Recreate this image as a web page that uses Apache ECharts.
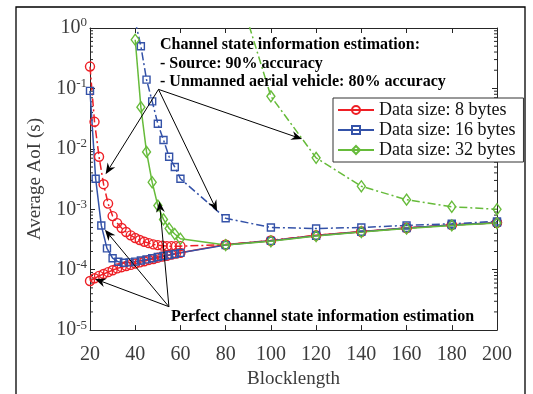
<!DOCTYPE html>
<html><head><meta charset="utf-8">
<script src="https://cdn.jsdelivr.net/npm/echarts@6/dist/echarts.min.js"></script>
<style>html,body{margin:0;padding:0;background:#fff}#c{width:533px;height:394px}</style>
</head><body><div id="c"></div>
<script>
// ---- data ----
const blockFine = [20,22,24,26,28,30,32,34,36,38,40,42,44,46,48,50,52,54,56,58,60];
const blockMid = [20,22.5,25,27.5,30,32.5,35,37.5,40,42.5,45,47.5,50,52.5,55,57.5,60];
const blockMidHigh = [40,42.5,45,47.5,50,52.5,55,57.5,60];
const blockLong = [80,100,120,140,160,180,200];

const aoi8Perfect = [6.5e-5,7.2e-5,7.9e-5,8.5e-5,9.1e-5,9.8e-5,1.05e-4,1.1e-4,1.15e-4,1.2e-4,1.26e-4,1.32e-4,1.38e-4,1.45e-4,1.5e-4,1.58e-4,1.65e-4,1.7e-4,1.78e-4,1.85e-4,1.9e-4,
  2.6e-4,3.0e-4,3.7e-4,4.3e-4,4.9e-4,5.5e-4,6.0e-4];
const aoi8Imperfect = [0.23,0.028,7.4e-3,2.6e-3,1.24e-3,7.7e-4,5.9e-4,4.9e-4,4.2e-4,3.7e-4,3.35e-4,3.1e-4,2.9e-4,2.75e-4,2.62e-4,2.55e-4,2.5e-4,2.45e-4,2.45e-4,2.45e-4,2.45e-4,
  2.6e-4,3.05e-4,3.7e-4,4.25e-4,4.9e-4,5.5e-4,6.0e-4];
const aoi16Perfect = [0.091,3.2e-3,5.4e-4,2.25e-4,1.55e-4,1.35e-4,1.3e-4,1.32e-4,1.36e-4,1.42e-4,1.48e-4,1.55e-4,1.62e-4,1.68e-4,1.75e-4,1.82e-4,1.9e-4,
  2.55e-4,3.0e-4,3.65e-4,4.25e-4,4.9e-4,5.5e-4,6.0e-4];
const aoi16Imperfect = [1.3,0.50,0.14,0.061,0.026,0.014,7.4e-3,5.0e-3,3.2e-3,
  7.1e-4,5.0e-4,4.8e-4,5.0e-4,5.4e-4,5.75e-4,6.3e-4];
const aoi32Perfect = [0.64,0.049,8.9e-3,2.8e-3,1.15e-3,6.8e-4,4.8e-4,3.9e-4,3.25e-4,
  2.55e-4,2.95e-4,3.6e-4,4.2e-4,4.8e-4,5.4e-4,5.9e-4];
const aoi32Imperfect = [20,0.074,7.1e-3,2.4e-3,1.44e-3,1.1e-3,1.0e-3];

const xTicks = [20,40,60,80,100,120,140,160,180,200];
const legendNames = ['Data size: 8 bytes','Data size: 16 bytes','Data size: 32 bytes'];
const minorMultipliers = [2,3,4,5,6,7,8,9];
const minorDecades = [1e-5,1e-4,1e-3,1e-2,1e-1];

// ---- styling ----
const RED = '#ee1f25', BLUE = '#3452a8', GREEN = '#66bb3a';
const AX = '#262626', LBL = '#3c3c3c';
const SERIF = 'Liberation Serif';
const DASHDOT = [8,3,2,3];

function zip(xs, ys){ return ys.map((v,i)=>[xs[i], v]); }

function mk(name, xs, ys, color, symbol, size, dashed){
  return {
    name, type:'line', data: zip(xs, ys),
    symbol, symbolSize: size, showAllSymbol: true, clip: true,
    color,
    itemStyle: {color:'rgba(255,255,255,0)', borderColor: color, borderWidth: 1.4},
    lineStyle: {color, width: 1.5, type: dashed ? DASHDOT : 'solid'},
    emphasis: {disabled: true}, animation: false
  };
}

const minorData = [];
minorDecades.forEach(d => minorMultipliers.forEach(m => minorData.push([20, m*d])));

const chart = echarts.init(document.getElementById('c'), null, {renderer:'canvas'});

const xBase = {
  type:'value', min:20, max:200, interval:20,
  axisLine:{show:true, lineStyle:{color:AX, width:1}},
  axisTick:{show:true, inside:true, length:5, lineStyle:{color:AX}},
  splitLine:{show:false}
};
const yBase = {
  type:'log', logBase:10, min:1e-5, max:1,
  axisLine:{show:true, lineStyle:{color:AX, width:1}},
  axisTick:{show:true, inside:true, length:5, lineStyle:{color:AX}},
  splitLine:{show:false}
};
const legendText = {fontSize:18, fontFamily:SERIF, color:'#111', lineHeight:20};

const option = {
  animation:false,
  backgroundColor:'#fff',
  textStyle:{fontFamily:SERIF},
  grid:{left:90, right:36, top:28, bottom:56, containLabel:false},
  xAxis:[
    Object.assign({}, xBase, {position:'bottom',
      axisLabel:{show:true, margin:15, fontSize:20, fontFamily:SERIF, color:LBL},
      name:'Blocklength', nameLocation:'middle', nameGap:38,
      nameTextStyle:{fontSize:19, fontFamily:SERIF, color:LBL}}),
    Object.assign({}, xBase, {position:'top', axisLabel:{show:false}})
  ],
  yAxis:[
    Object.assign({}, yBase, {position:'left',
      axisLabel:{show:true, margin:3, color:LBL,
        formatter: v => '{b|10}{s|' + Math.round(Math.log10(v)) + '}',
        rich:{ b:{fontSize:20, fontFamily:SERIF, color:LBL},
               s:{fontSize:13, fontFamily:SERIF, color:LBL, padding:[0,0,10,0]} }},
      name:'Average AoI (s)', nameLocation:'middle', nameGap:45,
      nameTextStyle:{fontSize:19, fontFamily:SERIF, color:LBL}}),
    Object.assign({}, yBase, {position:'right', axisLabel:{show:false}})
  ],
  legend:[{
    data: legendNames,
    orient:'vertical', left:333, top:98,
    backgroundColor:'#fff', borderColor:'#333', borderWidth:1,
    padding:[2,8,2,4], itemGap:0, itemWidth:36, itemHeight:10, itemTextGap:5,
    textStyle:legendText,
    selectedMode:false
  }],
  series:[
    mk(legendNames[0], blockFine.concat(blockLong), aoi8Perfect, RED, 'circle', 9, false),
    mk(legendNames[0], blockFine.concat(blockLong), aoi8Imperfect, RED, 'circle', 9, true),
    mk(legendNames[1], blockMid.concat(blockLong), aoi16Perfect, BLUE, 'rect', 7, false),
    mk(legendNames[1], blockMidHigh.concat(blockLong), aoi16Imperfect, BLUE, 'rect', 7, true),
    mk(legendNames[2], blockMidHigh.concat(blockLong), aoi32Perfect, GREEN, 'diamond', [8,11], false),
    mk(legendNames[2], blockLong, aoi32Imperfect, GREEN, 'diamond', [8,11], true),
    {
      type:'custom', silent:true, clip:false, data:minorData, encode:{x:0, y:1}, z:1,
      renderItem:(params, api) => {
        const p = api.coord([api.value(0), api.value(1)]);
        const cs = params.coordSys;
        const st = {stroke:AX, lineWidth:1};
        return {type:'group', children:[
          {type:'line', shape:{x1:cs.x, y1:p[1], x2:cs.x+3, y2:p[1]}, style:st},
          {type:'line', shape:{x1:cs.x+cs.width, y1:p[1], x2:cs.x+cs.width-3, y2:p[1]}, style:st}
        ]};
      }
    }
  ]
};
chart.setOption(option);

// ---- annotations (anchored in data coordinates) ----
const imperfectOrigin = [50.3, 0.0964];
const imperfectTargets = [[26.9, 3.81e-3],[76.2, 9.3e-4],[113.8, 0.0145]];
const perfectOrigin = [54.9, 2.44e-5];
const perfectTargets = [[22.2, 7.03e-5],[26.6, 4.58e-4],[50.7, 1.35e-3]];

const P = p => chart.convertToPixel({xAxisIndex:0, yAxisIndex:0}, p);
const gfx = [];
function arrow(a, b){
  const A = P(a), B = P(b);
  const dx = B[0]-A[0], dy = B[1]-A[1], L = Math.hypot(dx,dy);
  const ux = dx/L, uy = dy/L, nx = -uy, ny = ux;
  const len = 11, hw = 4.5, notch = 3.5;
  const bx = B[0]-ux*len, by = B[1]-uy*len;
  const cx = B[0]-ux*(len-notch), cy = B[1]-uy*(len-notch);
  gfx.push({type:'line', silent:true, z:100, shape:{x1:A[0], y1:A[1], x2:cx, y2:cy}, style:{stroke:'#000', lineWidth:1}});
  gfx.push({type:'polygon', silent:true, z:100, shape:{points:[[B[0],B[1]],[bx+nx*hw,by+ny*hw],[cx,cy],[bx-nx*hw,by-ny*hw]]}, style:{fill:'#000'}});
}
imperfectTargets.forEach(t => arrow(imperfectOrigin, t));
perfectTargets.forEach(t => arrow(perfectOrigin, t));

const BOLD = 'bold 16px "Liberation Serif"';
[['Channel state information estimation:', 45],
 ['- Source: 90% accuracy', 63.5],
 ['- Unmanned aerial vehicle: 80% accuracy', 82]].forEach(([t, y]) => {
  gfx.push({type:'text', silent:true, z:100, x:160, y:y, style:{text:t, font:BOLD, fill:'#000', verticalAlign:'middle', align:'left'}});
});
gfx.push({type:'text', silent:true, z:100, x:171, y:317, style:{text:'Perfect channel state information estimation', font:BOLD, fill:'#000', verticalAlign:'middle', align:'left'}});
gfx.push({type:'rect', silent:true, z:100, shape:{x:16, y:7, width:509, height:400}, style:{fill:'none', stroke:'#000', lineWidth:1.3}});

chart.setOption({graphic: gfx});
</script></body></html>
